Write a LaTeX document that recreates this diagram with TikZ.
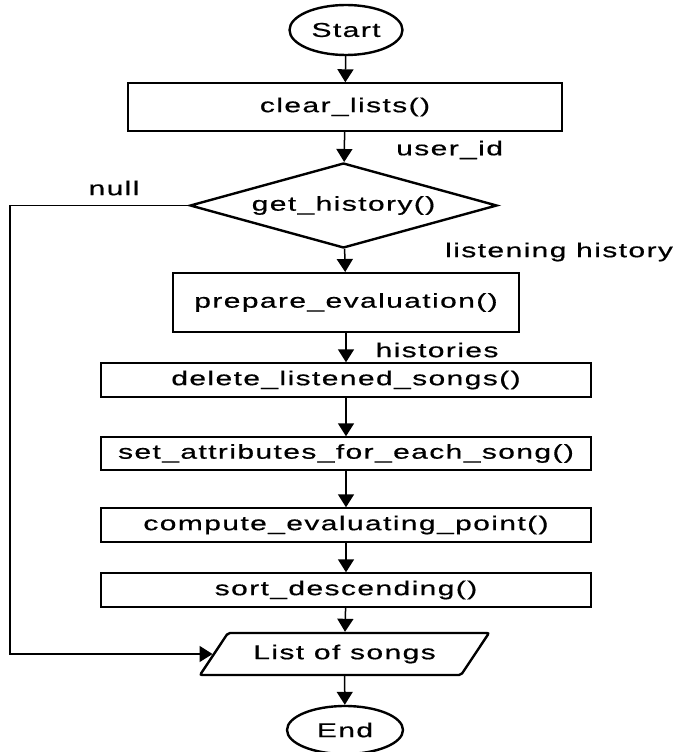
\documentclass[tikz,border=0pt]{standalone}
\usepackage{fontspec}
\setmainfont{Liberation Sans}[FakeStretch=1.5,LetterSpace=7,FakeBold=0.6]
\usetikzlibrary{shapes.geometric,arrows.meta}
\begin{document}
\begin{tikzpicture}[x=1pt,y=-1pt,
  font=\fontsize{20}{23}\selectfont,
  term/.style={draw,ellipse,line width=2.4pt,minimum width=113pt,minimum height=50pt,inner sep=0pt},
  proc/.style={draw,rectangle,line width=1.4pt,minimum width=490pt,minimum height=34pt,inner sep=0pt},
  decide/.style={draw,diamond,aspect=3.6,line width=2.4pt,minimum width=307pt,minimum height=85pt,inner sep=0pt},
  io/.style={draw,trapezium,trapezium left angle=33.7,trapezium right angle=146.3,trapezium stretches body=true,
     line width=2.4pt,minimum width=289pt,minimum height=42pt,inner sep=0pt,rounded corners=2pt},
  arr/.style={line width=1.5pt,-{Triangle[width=16pt,length=13pt]}},
  lbl/.style={inner sep=0pt}]
\useasboundingbox (0,0) rectangle (683,752);
\node[term] (start) at (346,30) {Start};
\node[proc,minimum width=434pt,minimum height=48pt] (clear) at (345,107) {clear\_lists()};
\node[decide] (hist) at (343.5,205.5) {get\_history()};
\node[proc,line width=2pt,minimum width=346pt,minimum height=59pt] (prep) at (346,302.5) {prepare\_evaluation()};
\node[proc] (del) at (346,380) {delete\_listened\_songs()};
\node[proc,minimum height=33pt] (attr) at (346,453.5) {set\_attributes\_for\_each\_song()};
\node[proc] (comp) at (346,525) {compute\_evaluating\_point()};
\node[proc] (sort) at (346,590) {sort\_descending()};
\node[io] (list) at (344.5,654) {List of songs};
\node[term,minimum width=116pt,minimum height=48pt] (end) at (345,730) {End};
\coordinate (leftx) at (10,0);
\node[lbl,anchor=west] (luser) at (396,150) {user\_id};
\node[lbl] (lnull) at (114,188) {null};
\node[lbl,anchor=west] (llisten) at (445,252) {listening history};
\node[lbl] (lhist) at (437,350) {histories};
\draw[arr] (start) -- (clear);
\draw[arr] (clear) -- (hist);
\draw[arr] (hist) -- (prep);
\draw[arr] (prep) -- (del);
\draw[arr] (del) -- (attr);
\draw[arr] (attr) -- (comp);
\draw[arr] (comp) -- (sort);
\draw[arr] (sort) -- (list);
\draw[arr] (list) -- (end);
\draw[arr] (hist.west) -- (hist.west -| leftx) |- (list.west);
\end{tikzpicture}
\end{document}
